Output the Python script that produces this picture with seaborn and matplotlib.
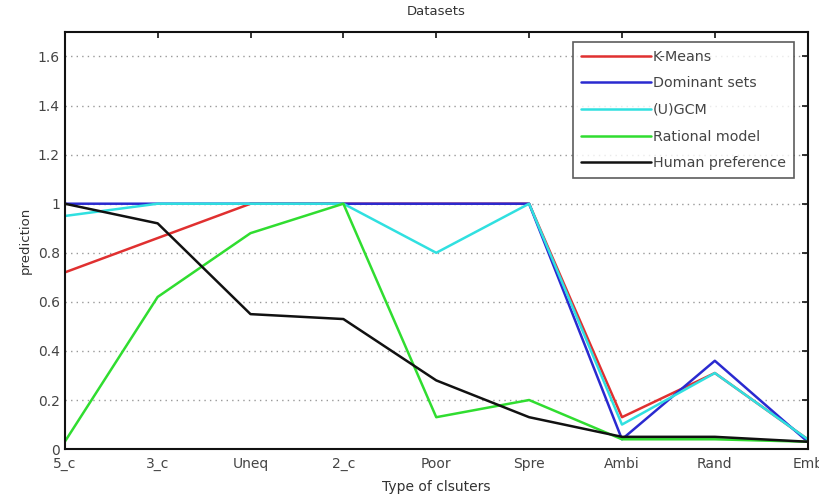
import matplotlib
matplotlib.use("Agg")
import matplotlib.pyplot as plt
import seaborn as sns
import pandas as pd

categories = ["5_c", "3_c", "Uneq", "2_c", "Poor", "Spre", "Ambi", "Rand", "Emb"]
kmeans = [0.72, 0.86, 1.0, 1.0, 1.0, 1.0, 0.13, 0.31, 0.04]
dominant = [1.0, 1.0, 1.0, 1.0, 1.0, 1.0, 0.04, 0.36, 0.03]
ugcm = [0.95, 1.0, 1.0, 1.0, 0.80, 1.0, 0.10, 0.31, 0.04]
rational = [0.03, 0.62, 0.88, 1.0, 0.13, 0.20, 0.04, 0.04, 0.03]
human = [1.0, 0.92, 0.55, 0.53, 0.28, 0.13, 0.05, 0.05, 0.03]

series_names = ["K-Means", "Dominant sets", "(U)GCM", "Rational model", "Human preference"]
series_vals = [kmeans, dominant, ugcm, rational, human]
colors = ["#e03030", "#2a2ad0", "#30e0e0", "#30dd30", "#111111"]

rows = []
for name, vals in zip(series_names, series_vals):
    for i, (c, v) in enumerate(zip(categories, vals)):
        rows.append({"x": i, "cat": c, "value": v, "series": name})
df = pd.DataFrame(rows)

sns.set_style("white")
plt.rcParams['font.family'] = ['DejaVu Sans']

fig, ax = plt.subplots(figsize=(8.2, 4.99), dpi=100)
fig.subplots_adjust(left=0.079, right=0.985, top=0.936, bottom=0.1)

sns.lineplot(data=df, x="x", y="value", hue="series", hue_order=series_names,
             palette=dict(zip(series_names, colors)), linewidth=1.8, ax=ax,
             sort=False, estimator=None)

ax.set_xlim(0, len(categories) - 1)
ax.set_ylim(0, 1.7)
ax.set_xticks(range(len(categories)))
ax.set_xticklabels(categories)
ax.set_yticks([0, 0.2, 0.4, 0.6, 0.8, 1, 1.2, 1.4, 1.6])
ax.set_yticklabels(["0", "0.2", "0.4", "0.6", "0.8", "1", "1.2", "1.4", "1.6"])
ax.yaxis.grid(True, linestyle=(0, (1, 3)), color="#999999", linewidth=1)
ax.xaxis.grid(False)
ax.tick_params(direction="in", top=True, right=True, length=4, width=1.2,
               labelsize=10, colors="#111111", labelcolor="#444444")
ax.tick_params(axis="x", pad=6)
for s in ax.spines.values():
    s.set_visible(True)
    s.set_color("#111111")
    s.set_linewidth(1.5)

ax.set_title("Datasets", fontsize=9.5, color="#333333", pad=12)
ax.set_xlabel("Type of clsuters", fontsize=10, color="#333333", labelpad=6)
ax.set_ylabel("prediction", fontsize=9.5, color="#333333")

leg = ax.legend(loc="upper right", bbox_to_anchor=(0.981, 0.976), borderaxespad=0,
                fontsize=10.3, frameon=True, fancybox=False, edgecolor="#333333",
                handlelength=4.9, handletextpad=0.1, labelspacing=0.88,
                borderpad=0.55)
leg.get_frame().set_linewidth(1.2)
for t in leg.get_texts():
    t.set_color("#444444")

fig.savefig("out.png", dpi=100)
